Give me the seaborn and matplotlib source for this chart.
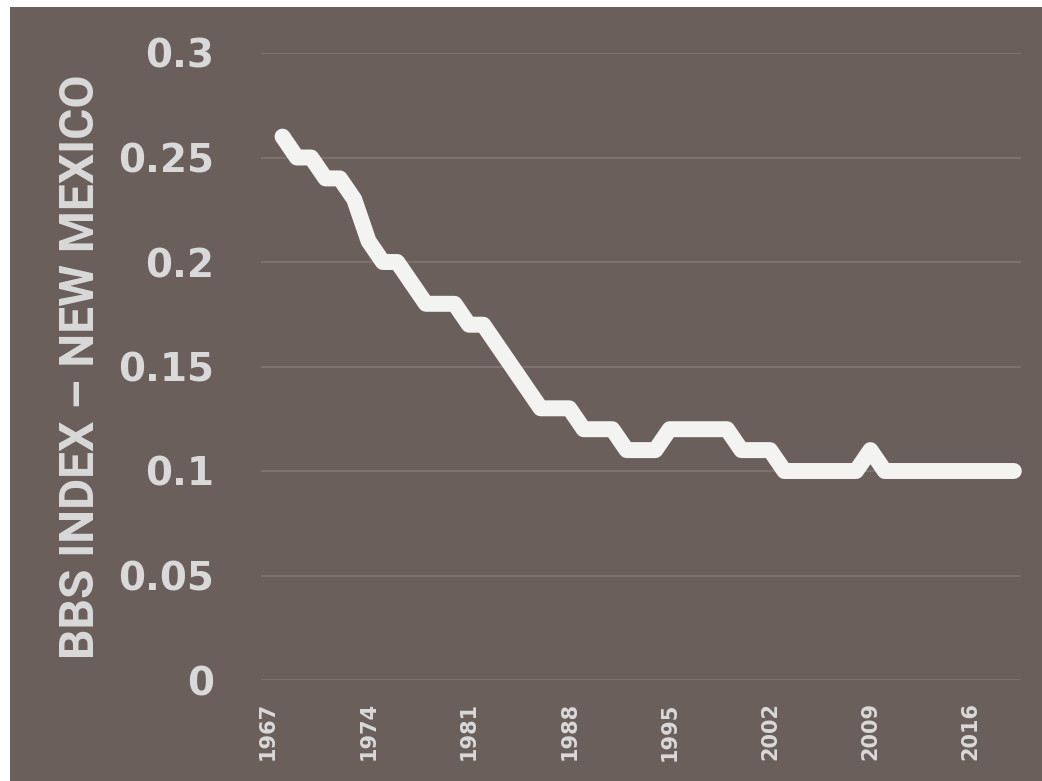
import matplotlib
matplotlib.use("Agg")
import matplotlib.pyplot as plt
from matplotlib.patches import Rectangle
import seaborn as sns
import pandas as pd


# ==========================================================
# Data
# ==========================================================

years = list(range(1968, 2020))

bbs_index = [
    0.26, 0.25, 0.25, 0.24, 0.24, 0.23, 0.21, 0.20, 0.20, 0.19,   # 1968-1977
    0.18, 0.18, 0.18, 0.17, 0.17, 0.16, 0.15, 0.14, 0.13, 0.13,   # 1978-1987
    0.13, 0.12, 0.12, 0.12, 0.11, 0.11, 0.11, 0.12, 0.12, 0.12,   # 1988-1997
    0.12, 0.12, 0.11, 0.11, 0.11, 0.10, 0.10, 0.10, 0.10, 0.10,   # 1998-2007
    0.10, 0.11, 0.10, 0.10, 0.10, 0.10, 0.10, 0.10, 0.10, 0.10,   # 2008-2017
    0.10, 0.10,                                                   # 2018-2019
]

x_tick_years = [1967, 1974, 1981, 1988, 1995, 2002, 2009, 2016]
y_ticks = [0, 0.05, 0.1, 0.15, 0.2, 0.25, 0.3]
y_tick_labels = ["0", "0.05", "0.1", "0.15", "0.2", "0.25", "0.3"]

y_title = "BBS INDEX \u2013 NEW MEXICO"


# ==========================================================
# Styling
# ==========================================================

bg_color = "#6a5f5a"
grid_color = "#7d726d"
line_color = "#f3f3f1"
text_color = "#d9d9d9"

W, H = 1042, 781

sns.set_style("white")
plt.rcParams["font.family"] = ["DejaVu Sans"]

fig = plt.figure(figsize=(W / 100, H / 100), dpi=100)
fig.patch.set_facecolor("white")

# brown panel (leaves a thin white strip top and left)
fig.add_artist(
    Rectangle(
        (10 / W, 0), 1 - 10 / W, 1 - 7 / H,
        transform=fig.transFigure,
        facecolor=bg_color,
        edgecolor="none",
        zorder=0
    )
)

ax = fig.add_axes([261 / W, (H - 680) / H, 760 / W, 627 / H])
ax.set_facecolor("none")

df = pd.DataFrame({"year": years, "bbs": bbs_index})

sns.lineplot(
    data=df,
    x="year",
    y="bbs",
    color=line_color,
    linewidth=11.5,
    ax=ax
)
for ln in ax.lines:
    ln.set_solid_joinstyle("round")
    ln.set_solid_capstyle("round")
    ln.set_clip_on(False)
    ln.set_zorder(3)

ax.set_xlim(1966.5, 2019.5)
ax.set_ylim(0, 0.3)

ax.set_yticks(y_ticks)
ax.set_yticklabels(y_tick_labels)
ax.set_xticks(x_tick_years)
ax.set_xticklabels([str(y) for y in x_tick_years], rotation=90)

ax.yaxis.grid(True, color=grid_color, linewidth=1.5)
ax.xaxis.grid(False)
ax.set_axisbelow(True)

for side in ["top", "right", "left", "bottom"]:
    ax.spines[side].set_visible(False)

ax.tick_params(axis="y", length=0, pad=34, labelsize=28, labelcolor=text_color)
ax.tick_params(axis="x", length=0, pad=16, labelsize=15, labelcolor=text_color)
for lab in ax.get_yticklabels() + ax.get_xticklabels():
    lab.set_fontweight("bold")

ax.set_xlabel("")
ax.set_ylabel("")

fig.text(
    81 / W, 1 - 367 / H,
    y_title,
    rotation=90,
    ha="center",
    va="center",
    fontsize=34.5,
    fontweight="bold",
    color=text_color,
    family=["Roboto", "DejaVu Sans"]
)

fig.savefig("out.png", dpi=100, facecolor=fig.get_facecolor())
plt.close(fig)
